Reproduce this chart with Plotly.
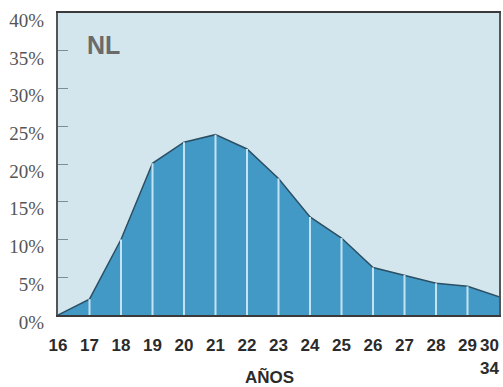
import plotly.graph_objects as go

# age groups (last point is the 30-34 group)
edades = ["16", "17", "18", "19", "20", "21", "22", "23", "24", "25",
          "26", "27", "28", "29", "30<br>34"]
porcentaje = [0, 2.1, 10, 20.1, 22.9, 23.9, 22, 18.1, 13, 10.2,
              6.3, 5.3, 4.2, 3.8, 2.4]
y_ticks = [0, 5, 10, 15, 20, 25, 30, 35, 40]

x = list(range(len(edades)))

# white separators under each inner point
sep_x, sep_y = [], []
for i in x[1:-1]:
    sep_x += [i, i, None]
    sep_y += [0, porcentaje[i], None]

fig = go.Figure()
fig.add_trace(go.Scatter(
    x=x, y=porcentaje, mode="lines", fill="tozeroy",
    fillcolor="#4399c6", line=dict(color="#2c4f63", width=1.5),
    hoverinfo="skip"))
fig.add_trace(go.Scatter(
    x=sep_x, y=sep_y, mode="lines",
    line=dict(color="#c4e3f2", width=2), hoverinfo="skip"))

tickvals = x[:-1] + [x[-1] - 0.3]

fig.update_layout(
    width=503, height=387,
    margin=dict(l=58, r=4, t=13, b=72),
    paper_bgcolor="white", plot_bgcolor="#d3e6ee",
    showlegend=False,
    xaxis=dict(range=[0, x[-1]], tickvals=tickvals, ticktext=edades,
               showgrid=False, zeroline=False, showline=True,
               linecolor="#3a3a3a", linewidth=2, mirror=True, ticks="",
               automargin=False, ticklabelstandoff=14,
               ticklabeloverflow="allow",
               tickfont=dict(family="Liberation Sans", size=17,
                             color="#2b2b2b", weight="bold"),
               tickangle=0),
    yaxis=dict(range=[0, 40.02], tickvals=y_ticks,
               ticktext=[f"{v}%" for v in y_ticks],
               showgrid=False, zeroline=False, showline=True,
               linecolor="#555555", linewidth=2, mirror=True,
               ticks="inside", ticklen=10, tickcolor="#7a8f99", tickwidth=1,
               automargin=False, ticklabelshift=7, ticklabelstandoff=8,
               ticklabeloverflow="allow",
               tickfont=dict(family="Liberation Serif", size=19, color="#555555")),
)

fig.add_annotation(text="<b>NL</b>", xref="paper", yref="paper",
                   x=0.062, y=0.894, xanchor="left", yanchor="middle",
                   showarrow=False,
                   font=dict(family="Liberation Sans", size=25, color="#6a6a6a"))
fig.add_annotation(text="<b>AÑOS</b>", xref="paper", yref="paper",
                   x=0.48, y=-0.205, xanchor="center", yanchor="middle",
                   showarrow=False,
                   font=dict(family="Liberation Sans", size=17, color="#2b2b2b"))

fig.write_html("out.html", config={"displayModeBar": False},
               post_script="document.body.style.margin='0';")
